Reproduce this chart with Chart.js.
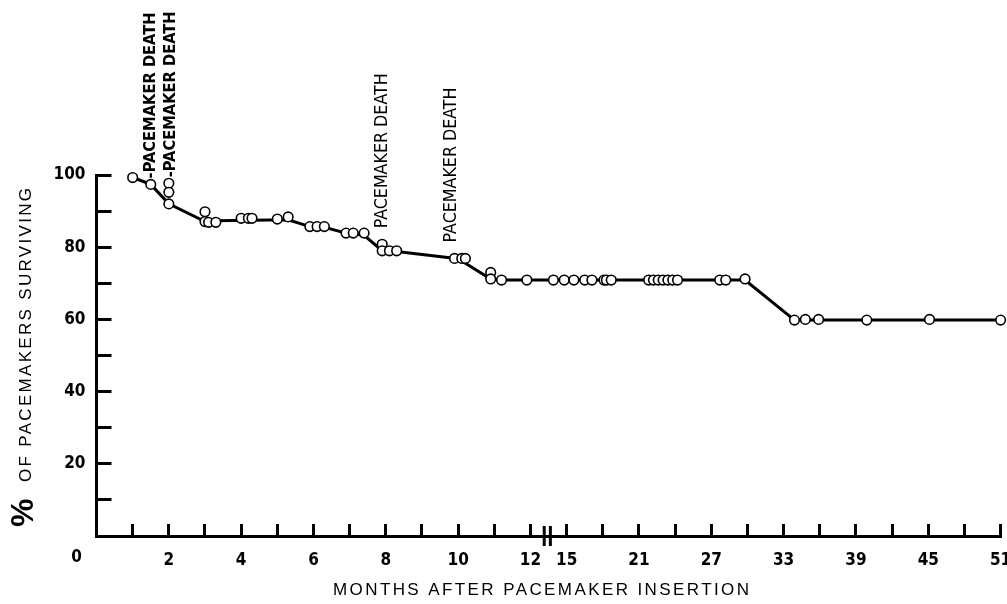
<!DOCTYPE html>
<html>
<head>
<meta charset="utf-8">
<script src="https://cdn.jsdelivr.net/npm/chart.js@4.4.1/dist/chart.umd.min.js"></script>
<style>
  html, body { margin: 0; background: #fff; }
  #wrap { width: 1007px; height: 604px; position: relative; }
</style>
</head>
<body>
<div id="wrap"><canvas id="chart"></canvas></div>
<script>
// pacemaker survival
const circleMonths = [1.0, 1.5, 2.0, 2.0, 2.0, 3.0, 3.0, 3.1, 3.3, 4.0, 4.2, 4.3, 5.0, 5.3,
  5.9, 6.1, 6.3, 6.9, 7.1, 7.4, 7.9, 7.9, 8.1, 8.3, 9.9, 10.1, 10.2, 10.9, 10.9, 11.2, 11.9,
  13.9, 14.8, 15.6, 16.5, 17.1, 18.1, 18.3, 18.7, 21.8, 22.2, 22.6, 23.0, 23.4, 23.8, 24.2,
  27.7, 28.2, 29.8, 33.9, 34.8, 35.9, 39.9, 45.1, 51.0];
const circleSurvival = [99.3, 97.4, 97.7, 95.2, 92.0, 89.8, 87.1, 86.9, 86.9, 88.0, 88.0, 88.0, 87.8, 88.4,
  85.7, 85.7, 85.7, 83.9, 83.9, 83.9, 80.8, 79.0, 79.0, 79.0, 76.9, 76.9, 76.9, 73.0, 71.2, 70.9, 70.9,
  70.9, 70.9, 70.9, 70.9, 70.9, 70.9, 70.9, 70.9, 70.9, 70.9, 70.9, 70.9, 70.9, 70.9, 70.9,
  70.9, 70.9, 71.2, 59.8, 60.0, 60.0, 59.8, 60.0, 59.8];

const curveMonths = [1.0, 1.5, 2.0, 3.0, 3.3, 5.3, 5.9, 6.3, 6.9, 7.4, 7.9, 8.3, 10.0, 10.9, 11.2, 29.8, 33.9, 51.0];
const curveSurvival = [99.3, 97.4, 92.0, 87.1, 87.3, 87.6, 85.7, 85.5, 83.9, 83.3, 79.0, 78.8, 76.8, 71.2, 70.9, 70.9, 59.8, 59.8];

const xTickLabels = ["2", "4", "6", "8", "10", "12", "15", "21", "27", "33", "39", "45", "51"];
const yTickLabels = [20, 40, 60, 80, 100];

const deathMonths = [1.5, 2.05, 7.9, 9.8];
const deathSurvival = [97.4, 97.7, 80.8, 76.9];
const deathLabels = ["-PACEMAKER DEATH", "-PACEMAKER DEATH", "PACEMAKER DEATH", "PACEMAKER DEATH"];

// broken axis: one tick per month up to 12, then one tick per 3 months
function toAxis(m) {
  return m <= 12 ? m : 12 + (m - 12) / 3;
}

const NARROW = "'Liberation Sans Narrow', 'DejaVu Sans Condensed', sans-serif";
const PLAIN = "'Liberation Sans', Arial, sans-serif";

function spacedText(ctx, text, x, y, width) {
  ctx.letterSpacing = "0px";
  const w = ctx.measureText(text).width;
  const sp = (width - w) / (text.length - 1);
  ctx.letterSpacing = sp + "px";
  ctx.fillText(text, x, y);
  ctx.letterSpacing = "0px";
}

// pick a font size so the text runs to the given length
function fitFont(ctx, text, weight, family, len) {
  ctx.font = weight + " 20px " + family;
  const size = 20 * len / ctx.measureText(text).width;
  ctx.font = weight + " " + size.toFixed(2) + "px " + family;
}

const decorations = {
  id: "decorations",
  afterDraw(chart) {
    const { ctx, scales: { x, y } } = chart;
    ctx.save();
    ctx.fillStyle = "#000";
    ctx.strokeStyle = "#000";

    // break marks on the month axis
    ctx.lineWidth = 3;
    [12.38, 12.55].forEach((u) => {
      const px = x.getPixelForValue(u);
      ctx.beginPath();
      ctx.moveTo(px, y.bottom - 10);
      ctx.lineTo(px, y.bottom + 10);
      ctx.stroke();
    });

    // zero sits left of the corner
    ctx.font = "bold 17px " + NARROW;
    ctx.textAlign = "center";
    ctx.textBaseline = "middle";
    ctx.fillText("0", x.left - 20, 558);

    // pacemaker death notes
    deathMonths.forEach((m, i) => {
      const txt = deathLabels[i];
      const dashed = txt.startsWith("-");
      const px = x.getPixelForValue(toAxis(m));
      const py = y.getPixelForValue(deathSurvival[i]) - (dashed ? 6 : 16);
      ctx.save();
      ctx.translate(px, py);
      ctx.rotate(-Math.PI / 2);
      if (dashed) fitFont(ctx, txt, "bold", NARROW, 166);
      else fitFont(ctx, txt, "normal", NARROW, 155);
      ctx.textAlign = "left";
      ctx.textBaseline = "middle";
      ctx.fillText(txt, 0, 0);
      ctx.restore();
    });

    // x title
    ctx.font = "17px " + PLAIN;
    ctx.textAlign = "left";
    ctx.textBaseline = "middle";
    spacedText(ctx, "MONTHS AFTER PACEMAKER INSERTION", 333, 590, 416);

    // y title
    ctx.save();
    ctx.translate(26, 0);
    ctx.rotate(-Math.PI / 2);
    ctx.textAlign = "left";
    ctx.textBaseline = "middle";
    ctx.font = "bold 32px " + PLAIN;
    ctx.fillText("%", -527, -2);
    ctx.font = "17px " + PLAIN;
    spacedText(ctx, "OF PACEMAKERS SURVIVING", -482, 0, 294);
    ctx.restore();

    ctx.restore();
  }
};

const hideZero = (c) => (c.tick && c.tick.value === 0 ? "rgba(0,0,0,0)" : "#000");

new Chart(document.getElementById("chart"), {
  type: "scatter",
  data: {
    datasets: [
      {
        label: "pacemakers",
        data: circleMonths.map((m, i) => ({ x: toAxis(m), y: circleSurvival[i] })),
        showLine: false,
        pointRadius: 4.8,
        pointBorderWidth: 1.6,
        pointBackgroundColor: "#fff",
        pointBorderColor: "#000",
        clip: false,
        order: 1
      },
      {
        label: "survival",
        data: curveMonths.map((m, i) => ({ x: toAxis(m), y: curveSurvival[i] })),
        showLine: true,
        borderColor: "#000",
        borderWidth: 3,
        pointRadius: 0,
        tension: 0,
        clip: false,
        order: 2
      }
    ]
  },
  options: {
    responsive: true,
    maintainAspectRatio: false,
    animation: false,
    layout: { padding: { left: 0, top: 175, right: 4, bottom: 0 } },
    plugins: { legend: { display: false }, tooltip: { enabled: false } },
    scales: {
      x: {
        type: "linear",
        min: 0,
        max: 25,
        afterFit(s) {
          s.height = 68;
          s.paddingLeft = 0;
          s.paddingRight = 0;
        },
        border: { color: "#000", width: 3 },
        grid: { drawOnChartArea: false, drawTicks: true, tickLength: -12, tickWidth: 3, tickColor: hideZero },
        ticks: {
          stepSize: 1,
          autoSkip: false,
          maxRotation: 0,
          padding: 26,
          color: "#000",
          font: { family: NARROW, size: 17, weight: "bold" },
          callback: (v) => {
            const hit = xTickLabels.find((l) => toAxis(Number(l)) === v);
            return hit || "";
          }
        }
      },
      y: {
        min: 0,
        max: 100,
        afterFit(s) {
          s.width = 96.5;
          s.paddingTop = 0;
          s.paddingBottom = 0;
        },
        border: { color: "#000", width: 3 },
        grid: { drawOnChartArea: false, drawTicks: true, tickLength: -15, tickWidth: 3, tickColor: hideZero },
        ticks: {
          stepSize: 10,
          padding: 26,
          color: "#000",
          font: { family: NARROW, size: 17, weight: "bold" },
          callback: (v) => (yTickLabels.includes(v) ? String(v) : "")
        }
      }
    }
  },
  plugins: [decorations]
});
</script>
</body>
</html>
